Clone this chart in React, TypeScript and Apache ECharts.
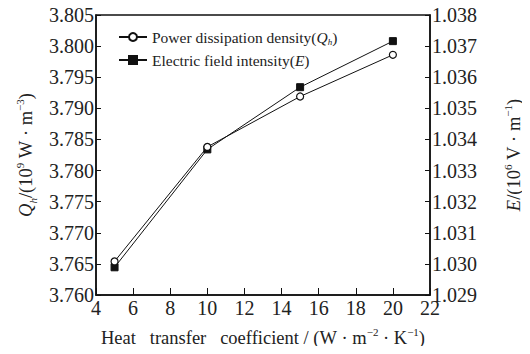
import React, { useEffect, useRef } from "react";
import * as echarts from "echarts";

const xValues = [5, 10, 15, 20];
const qhValues = [3.7654, 3.7838, 3.7919, 3.7986];
const eValues = [1.02989, 1.03368, 1.03568, 1.03716];
const seriesNames = ["Power dissipation density(Qh)", "Electric field intensity(E)"];

const FONT = "Liberation Serif";

export default function App() {
  const ref = useRef<HTMLDivElement>(null);
  useEffect(() => {
    if (!ref.current) return;
    const chart = echarts.init(ref.current, null, { renderer: "svg" });
    const nameRich = {
      n: { fontSize: 18.5, fontFamily: FONT, color: "#222", lineHeight: 24 },
      i: { fontSize: 18.5, fontFamily: FONT, color: "#222", fontStyle: "italic", lineHeight: 24 },
      sup: { fontSize: 11, fontFamily: FONT, color: "#222", verticalAlign: "top" },
      sub: { fontSize: 11, fontFamily: FONT, color: "#222", fontStyle: "italic", verticalAlign: "bottom" },
    };
    const legendRich = {
      n: { fontSize: 15.5, fontFamily: FONT, color: "#222", lineHeight: 18 },
      i: { fontSize: 15.5, fontFamily: FONT, color: "#222", fontStyle: "italic", lineHeight: 18 },
      sub: { fontSize: 9, fontFamily: FONT, color: "#222", fontStyle: "italic", verticalAlign: "bottom" },
    };
    const tickRich = { t: { fontSize: 20, fontFamily: FONT, color: "#222" } };
    const axisLine = { show: true, lineStyle: { color: "#111", width: 1.5 } };
    const sp = "\u00a0";
    chart.setOption({
      animation: false,
      backgroundColor: "#fff",
      textStyle: { fontFamily: FONT },
      grid: {
        left: 96,
        right: 100,
        top: 15,
        bottom: 59,
        show: true,
        borderColor: "#111",
        borderWidth: 1.5,
        containLabel: false,
        outerBoundsMode: "none",
      },
      legend: {
        orient: "vertical",
        left: 113,
        top: 24,
        itemWidth: 28,
        itemHeight: 10,
        itemGap: 6,
        data: seriesNames,
        formatter: (name: string) =>
          name === seriesNames[0]
            ? "{n|Power dissipation density(}{i|Q}{sub|h}{n|)}"
            : "{n|Electric field intensity(}{i|E}{n|)}",
        textStyle: { fontFamily: FONT, rich: legendRich },
      },
      xAxis: {
        type: "value",
        min: 4,
        max: 22,
        interval: 2,
        name: `{n|Heat${sp}${sp}${sp}transfer${sp}${sp}${sp}coefficient${sp}/${sp}(W${sp}·${sp}m}{sup|−2}{n|${sp}·${sp}K}{sup|−1}{n|)}`,
        nameLocation: "middle",
        nameGap: 31,
        nameTextStyle: { fontFamily: FONT, rich: nameRich },
        axisLine,
        axisTick: { show: true, inside: true, length: 7, lineStyle: { color: "#111" } },
        axisLabel: { margin: 3, formatter: (v: number) => `{t|${v}}`, rich: tickRich },
        splitLine: { show: false },
      },
      yAxis: [
        {
          type: "value",
          min: 3.76,
          max: 3.805,
          interval: 0.005,
          position: "left",
          name: `{i|Q}{sub|h}{n|/(10}{sup|9}{n|${sp}W${sp}·${sp}m}{sup|−3}{n|)}`,
          nameLocation: "middle",
          nameRotate: 90,
          nameGap: 56,
          nameTextStyle: { fontFamily: FONT, rich: nameRich },
          axisLine,
          axisTick: { show: true, inside: true, length: 5, lineStyle: { color: "#111" } },
          axisLabel: { margin: 2, formatter: (v: number) => `{t|${v.toFixed(3)}}`, rich: tickRich },
          splitLine: { show: false },
        },
        {
          type: "value",
          min: 1.029,
          max: 1.038,
          interval: 0.001,
          position: "right",
          name: `{i|E}{n|/(10}{sup|6}{n|${sp}V${sp}·${sp}m}{sup|−1}{n|)}`,
          nameLocation: "middle",
          nameRotate: 90,
          nameGap: 72,
          nameTextStyle: { fontFamily: FONT, rich: nameRich },
          axisLine,
          axisTick: { show: true, inside: true, length: 5, lineStyle: { color: "#111" } },
          axisLabel: { margin: 2, formatter: (v: number) => `{t|${v.toFixed(3)}}`, rich: tickRich },
          splitLine: { show: false },
        },
      ],
      series: [
        {
          name: seriesNames[0],
          type: "line",
          yAxisIndex: 0,
          data: xValues.map((x, i) => [x, qhValues[i]]),
          symbol: "circle",
          symbolSize: 7,
          lineStyle: { color: "#111", width: 1 },
          itemStyle: { color: "#fff", borderColor: "#111", borderWidth: 1.2 },
          z: 3,
        },
        {
          name: seriesNames[1],
          type: "line",
          yAxisIndex: 1,
          data: xValues.map((x, i) => [x, eValues[i]]),
          symbol: "rect",
          symbolSize: 7,
          lineStyle: { color: "#111", width: 1 },
          itemStyle: { color: "#111", borderColor: "#111", borderWidth: 1 },
          z: 2,
        },
      ],
    });
    return () => chart.dispose();
  }, []);
  return <div ref={ref} style={{ width: 530, height: 354, margin: -8 }} />;
}
